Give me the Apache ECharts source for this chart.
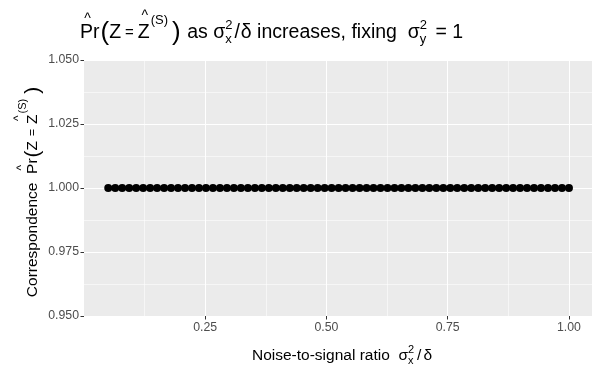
<!DOCTYPE html>
<html>
<head>
<meta charset="utf-8">
<script src="https://cdn.jsdelivr.net/npm/echarts@6/dist/echarts.min.js"></script>
<style>
  html, body { margin: 0; padding: 0; background: #fff; }
  #chart { width: 592px; height: 375px; }
</style>
</head>
<body>
<div id="chart"></div>
<script>
// noise-to-signal ratio values (x) and correspondence (y)
const ratio = [
  0.0500, 0.0644, 0.0788, 0.0932, 0.1076, 0.1220, 0.1364, 0.1508, 0.1652, 0.1795,
  0.1939, 0.2083, 0.2227, 0.2371, 0.2515, 0.2659, 0.2803, 0.2947, 0.3091, 0.3235,
  0.3379, 0.3523, 0.3667, 0.3811, 0.3955, 0.4098, 0.4242, 0.4386, 0.4530, 0.4674,
  0.4818, 0.4962, 0.5106, 0.5250, 0.5394, 0.5538, 0.5682, 0.5826, 0.5970, 0.6114,
  0.6258, 0.6402, 0.6545, 0.6689, 0.6833, 0.6977, 0.7121, 0.7265, 0.7409, 0.7553,
  0.7697, 0.7841, 0.7985, 0.8129, 0.8273, 0.8417, 0.8561, 0.8705, 0.8848, 0.8992,
  0.9136, 0.9280, 0.9424, 0.9568, 0.9712, 0.9856, 1.0000
];
const correspondence = [
  1, 1, 1, 1, 1, 1, 1, 1, 1, 1,
  1, 1, 1, 1, 1, 1, 1, 1, 1, 1,
  1, 1, 1, 1, 1, 1, 1, 1, 1, 1,
  1, 1, 1, 1, 1, 1, 1, 1, 1, 1,
  1, 1, 1, 1, 1, 1, 1, 1, 1, 1,
  1, 1, 1, 1, 1, 1, 1, 1, 1, 1,
  1, 1, 1, 1, 1, 1, 1
];
const xTicks = [0.25, 0.5, 0.75, 1.0];
const yTicks = [0.95, 0.975, 1.0, 1.025, 1.05];

const FONT = '"Liberation Sans", Arial, sans-serif';
const ctx = document.createElement("canvas").getContext("2d");

// lay out plotmath-like pieces: [text, size, dy, opts]
// opts.over = centre over previous glyph, opts.stack = same x as previous piece
function flow(pieces) {
  let x = 0, lastX = 0, lastW = 0;
  const items = [];
  pieces.forEach(([text, size, dy, o = {}]) => {
    ctx.font = size + "px " + FONT;
    const w = ctx.measureText(text).width;
    let px;
    if (o.over) px = lastX + (lastW - w) / 2 + (o.dx || 0);
    else if (o.stack) px = lastX;
    else px = x + (o.gap || 0);
    items.push({ text, x: px, y: dy, size });
    if (o.over) return;
    if (o.stack) { x = Math.max(x, px + w); return; }
    lastX = px; lastW = w; x = px + w;
  });
  return { items, width: x };
}

function toTexts(items) {
  return items.map((it) => ({
    type: "text",
    x: it.x,
    y: it.y - it.size * 0.34,
    silent: true,
    style: {
      text: it.text,
      font: it.size + "px " + FONT,
      fill: "#000",
      textAlign: "left",
      textVerticalAlign: "middle",
    },
  }));
}

const B = 19.5, S = 13;
const titleFlow = flow([
  ["P", B, 0], ["^", 14, -15, { over: true, dx: 1 }], ["r", B, 0],
  ["(", 26, 3, { gap: 1 }], ["Z", B, 0], ["=", 15, -1, { gap: 4 }], ["Z", B, 0, { gap: 4 }],
  ["^", 14, -18, { over: true, dx: 1 }], ["(S)", S, -14, { gap: 1 }], [")", 26, 3, { gap: 4 }],
  [" as ", B, 0, { gap: 1 }], ["σ", B, 0], ["2", S, -9], ["x", S, 5, { stack: true }],
  ["/", B, 0, { gap: 2 }], ["δ", B, 0, { gap: 1 }], [" increases, fixing  ", B, 0],
  ["σ", B, 0], ["2", S, -9], ["y", S, 5, { stack: true }], [" = 1", B, 0, { gap: 3 }],
]);

const A = 15.5, s = 11;
const yTitleFlow = flow([
  ["Correspondence  ", A, 0], ["P", A, 0], ["^", 12, -12, { over: true, dx: 1 }], ["r", A, 0],
  ["(", 21, 2, { gap: 1 }], ["Z", A, 0], ["=", 12, -1, { gap: 5 }], ["Z", A, 0, { gap: 5 }],
  ["^", 12, -15, { over: true, dx: 1 }], ["(S)", s, -11, { gap: 1 }], [")", 21, 2, { gap: 5 }],
]);

const xTitleFlow = flow([
  ["Noise-to-signal ratio  ", A, 0], ["σ", A, 0], ["2", s, -7], ["x", s, 4, { stack: true }],
  ["/", A, 0, { gap: 3 }], ["δ", A, 0, { gap: 2 }],
]);

const chart = echarts.init(document.getElementById("chart"));
chart.setOption({
  animation: false,
  backgroundColor: "#fff",
  textStyle: { fontFamily: FONT },
  grid: {
    left: 84, right: -6, top: 60, bottom: 59,
    show: true, backgroundColor: "#EBEBEB", borderWidth: 0,
  },
  xAxis: {
    type: "value",
    min: 0, max: 1.0475, interval: 0.25,
    axisLine: { show: false },
    axisTick: { show: true, length: 3.5, customValues: xTicks, lineStyle: { color: "#333", width: 1 } },
    axisLabel: {
      customValues: xTicks, color: "#4D4D4D", fontSize: 12.3, margin: 6,
      formatter: (v) => v.toFixed(2),
    },
    splitLine: { show: true, lineStyle: { color: "#fff", width: 1.1 } },
    minorTick: { show: false, splitNumber: 2 },
    minorSplitLine: { show: true, lineStyle: { color: "#fff", width: 0.55 } },
  },
  yAxis: {
    type: "value",
    min: 0.95, max: 1.05, interval: 0.025,
    axisLine: { show: false },
    axisTick: { show: true, length: 3.5, lineStyle: { color: "#333", width: 1 } },
    axisLabel: {
      customValues: yTicks, color: "#4D4D4D", fontSize: 12.3, margin: 5,
      formatter: (v) => v.toFixed(3),
    },
    splitLine: { show: true, lineStyle: { color: "#fff", width: 1.1 } },
    minorTick: { show: false, splitNumber: 2 },
    minorSplitLine: { show: true, lineStyle: { color: "#fff", width: 0.55 } },
  },
  series: [
    {
      type: "scatter",
      data: ratio.map((x, i) => [x, correspondence[i]]),
      symbol: "circle",
      symbolSize: 8,
      itemStyle: { color: "#000", opacity: 1 },
      silent: true,
    },
  ],
  graphic: [
    { type: "group", x: 80, y: 39, children: toTexts(titleFlow.items) },
    {
      type: "group", x: 38, y: 192 + yTitleFlow.width / 2, rotation: Math.PI / 2,
      children: toTexts(yTitleFlow.items),
    },
    { type: "group", x: 342 - xTitleFlow.width / 2, y: 361, children: toTexts(xTitleFlow.items) },
  ],
});
</script>
</body>
</html>
